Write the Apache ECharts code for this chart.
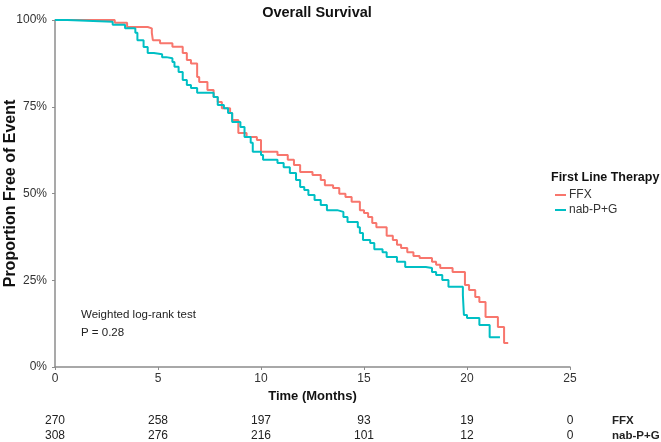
<!DOCTYPE html>
<html>
<head>
<meta charset="utf-8">
<script src="https://cdn.jsdelivr.net/npm/echarts@6/dist/echarts.min.js"></script>
<style>html,body{margin:0;padding:0;background:#fff;}#c{width:661px;height:442px;}</style>
</head>
<body>
<div id="c"></div>
<script>
// Kaplan-Meier step points: time (months) and survival (%)
const ffxTime = [0, 2.9, 3.5, 4.5, 4.7, 4.75, 5.1, 5.7, 6.2, 6.4, 6.6, 6.9, 7.0, 7.4, 7.7, 7.9, 8.1, 8.5, 8.6, 8.9, 9.3, 9.8, 10.0, 10.8, 11.3, 11.6, 11.9, 12.5, 12.9, 13.1, 13.5, 13.8, 14.1, 14.4, 14.8, 15.0, 15.2, 15.4, 15.6, 16.1, 16.4, 16.6, 16.8, 17.1, 17.4, 17.7, 18.3, 18.5, 18.7, 19.3, 19.9, 20.1, 20.4, 20.6, 20.9, 21.5, 21.8, 22.0];
const ffxSurv = [100, 99.2, 98.0, 97.6, 96.3, 94.2, 93.3, 92.3, 90.5, 88.5, 87.5, 83.6, 82.1, 79.8, 77.8, 76.4, 74.6, 73.2, 71.2, 67.4, 66.3, 65.4, 62.0, 61.1, 59.7, 58.2, 56.2, 55.3, 53.9, 52.4, 51.6, 49.9, 49.0, 47.6, 45.2, 44.4, 43.2, 41.5, 40.3, 37.8, 36.6, 35.2, 34.3, 33.1, 32.0, 31.4, 30.3, 29.5, 28.5, 27.4, 23.6, 22.2, 20.2, 18.7, 14.4, 11.5, 6.9, 6.9];
const nabTime = [0, 0.6, 2.8, 3.4, 3.9, 4.0, 4.3, 4.5, 4.8, 5.2, 5.4, 5.7, 5.8, 6.0, 6.2, 6.4, 6.6, 6.9, 7.7, 7.9, 8.2, 8.4, 8.6, 9.0, 9.2, 9.5, 9.6, 10.0, 10.1, 10.8, 11.1, 11.4, 11.7, 11.9, 12.1, 12.3, 12.6, 12.9, 13.2, 13.7, 14.0, 14.2, 14.7, 14.8, 14.95, 15.3, 15.5, 15.9, 16.1, 16.6, 17.0, 18.0, 18.3, 18.5, 18.8, 19.1, 19.8, 19.85, 20.0, 20.6, 21.1, 21.6];
const nabSurv = [100, 99.5, 98.6, 97.6, 96.3, 94.2, 92.2, 90.5, 90.1, 89.3, 89.0, 87.9, 86.5, 85.0, 82.7, 81.3, 80.4, 79.0, 77.8, 75.5, 74.6, 73.2, 70.6, 69.2, 66.3, 64.6, 62.0, 61.1, 59.7, 58.8, 57.6, 55.9, 53.9, 51.9, 51.0, 49.6, 48.1, 46.7, 45.2, 44.7, 43.2, 41.8, 40.3, 38.6, 36.6, 35.7, 33.9, 33.1, 31.7, 30.3, 28.8, 28.5, 27.4, 26.5, 25.1, 23.1, 20.7, 15.0, 14.1, 12.1, 8.6, 8.6];

// Number at risk table
const riskTimes = [0, 5, 10, 15, 20, 25];
const riskFFX = [270, 258, 197, 93, 19, 0];
const riskNab = [308, 276, 216, 101, 12, 0];
const groupNames = ['FFX', 'nab-P+G'];

const FONT = '"Liberation Sans", Arial, sans-serif';
const RED = '#F8766D', TEAL = '#00BFC4';
const toPairs = (t, s) => t.map((v, i) => [v, s[i]]);
const riskLabel = arr => v => { const i = riskTimes.indexOf(v); return i >= 0 ? String(arr[i]) : ''; };

const baseX = {
  type: 'value', min: 0, max: 25, interval: 5, gridIndex: 0, position: 'bottom',
  splitLine: { show: false }
};

const chart = echarts.init(document.getElementById('c'));
chart.setOption({
  animation: false,
  backgroundColor: '#fff',
  title: {
    text: 'Overall Survival', left: 312, top: 0, textAlign: 'center',
    textStyle: { fontFamily: FONT, fontSize: 14.5, fontWeight: 'bold', color: '#111' }
  },
  grid: { left: 55, right: 91, top: 20, bottom: 75, containLabel: false, outerBoundsMode: 'none' },
  legend: {
    orient: 'vertical', left: 550, top: 184, itemWidth: 11, itemHeight: 2, itemGap: 3,
    icon: 'rect',
    data: groupNames,
    textStyle: { fontFamily: FONT, fontSize: 12, color: '#333', padding: [0, 0, 0, -2] }
  },
  xAxis: [
    Object.assign({}, baseX, {
      name: 'Time (Months)', nameLocation: 'middle', nameGap: 22,
      nameTextStyle: { fontFamily: FONT, fontSize: 13, fontWeight: 'bold', color: '#111' },
      axisLine: { show: true, lineStyle: { color: '#8c8c8c', width: 1.5 } },
      axisTick: { show: true, length: 3, lineStyle: { color: '#8c8c8c' } },
      axisLabel: { fontFamily: FONT, fontSize: 12, color: '#333', margin: 6 }
    }),
    Object.assign({}, baseX, {
      offset: 0,
      axisLine: { show: false }, axisTick: { show: false },
      axisLabel: { fontFamily: FONT, fontSize: 12, color: '#222', margin: 48, formatter: riskLabel(riskFFX) }
    }),
    Object.assign({}, baseX, {
      offset: 0,
      axisLine: { show: false }, axisTick: { show: false },
      axisLabel: { fontFamily: FONT, fontSize: 12, color: '#222', margin: 63, formatter: riskLabel(riskNab) }
    })
  ],
  yAxis: {
    type: 'value', min: 0, max: 100, interval: 25,
    name: 'Proportion Free of Event', nameLocation: 'middle', nameGap: 36, nameMoveOverlap: false,
    nameTextStyle: { fontFamily: FONT, fontSize: 16, fontWeight: 'bold', color: '#111' },
    axisLine: { show: true, lineStyle: { color: '#8c8c8c', width: 1.5 } },
    axisTick: { show: true, length: 3, lineStyle: { color: '#8c8c8c' } },
    splitLine: { show: false },
    axisLabel: { fontFamily: FONT, fontSize: 12, color: '#333', margin: 8, formatter: '{value}%' }
  },
  graphic: [
    { type: 'text', left: 81, top: 309, style: { text: 'Weighted log-rank test', font: '11.5px ' + FONT, fill: '#222' } },
    { type: 'text', left: 81, top: 327, style: { text: 'P = 0.28', font: '11.5px ' + FONT, fill: '#222' } },
    { type: 'text', left: 551, top: 171, style: { text: 'First Line Therapy', font: 'bold 12.5px ' + FONT, fill: '#111' } },
    { type: 'text', left: 612, top: 415, style: { text: groupNames[0], font: 'bold 11.5px ' + FONT, fill: '#222' } },
    { type: 'text', left: 612, top: 430, style: { text: groupNames[1], font: 'bold 11.5px ' + FONT, fill: '#222' } }
  ],
  series: [
    {
      name: groupNames[0], type: 'line', step: 'end', showSymbol: false,
      xAxisIndex: 0, yAxisIndex: 0,
      lineStyle: { color: RED, width: 2 }, itemStyle: { color: RED },
      data: toPairs(ffxTime, ffxSurv)
    },
    {
      name: groupNames[1], type: 'line', step: 'end', showSymbol: false,
      xAxisIndex: 0, yAxisIndex: 0,
      lineStyle: { color: TEAL, width: 2 }, itemStyle: { color: TEAL },
      data: toPairs(nabTime, nabSurv)
    }
  ]
});
</script>
</body>
</html>
